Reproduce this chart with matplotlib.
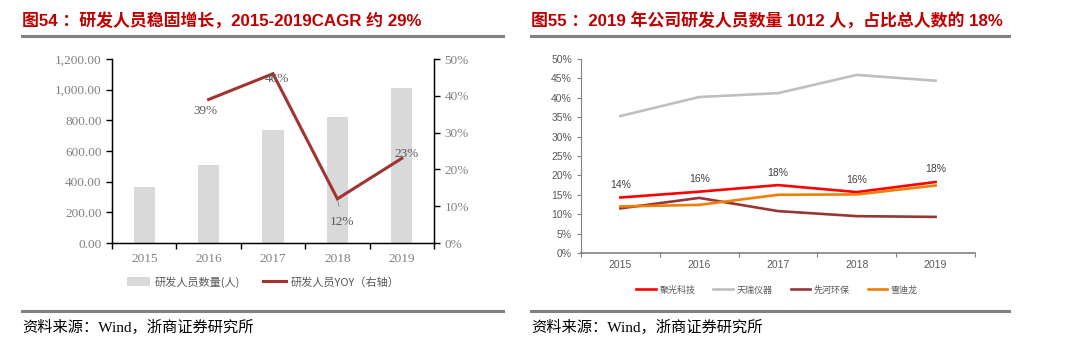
import matplotlib
matplotlib.use('Agg')
import matplotlib.pyplot as plt
from matplotlib.lines import Line2D
from matplotlib.ticker import FuncFormatter, FixedLocator

plt.rcParams['font.family'] = ['Liberation Sans', 'Noto Sans CJK SC', 'DejaVu Sans']

# data
years = ['2015', '2016', '2017', '2018', '2019']
staff = [365, 507, 738, 824, 1012]
yoy = [None, 0.39, 0.46, 0.12, 0.23]
yoy_labels = ['', '39%', '46%', '12%', '23%']

jg = [0.143, 0.158, 0.175, 0.157, 0.183]      # 聚光科技
tr = [0.353, 0.402, 0.412, 0.459, 0.444]      # 天瑞仪器
xh = [0.115, 0.142, 0.108, 0.095, 0.093]      # 先河环保
xdl = [0.120, 0.124, 0.150, 0.151, 0.174]     # 雪迪龙
jg_labels = ['14%', '16%', '18%', '16%', '18%']

W, H = 1080, 343
fig = plt.figure(figsize=(W / 100, H / 100), dpi=100)

def fx(px): return px / W
def fy(py): return 1 - py / H

title_red = '#C00000'
grey_rule = '#808080'
serif_cjk = ['Liberation Serif', 'Noto Sans CJK SC']

# titles, rules and source
fig.text(fx(22), fy(21), '图54 ：研发人员稳固增长，2015-2019CAGR 约 29%', color=title_red,
         fontsize=12.2, fontweight='bold', va='center', ha='left')
fig.text(fx(531), fy(21), '图55 ：2019 年公司研发人员数量 1012 人，占比总人数的 18%', color=title_red,
         fontsize=12.2, fontweight='bold', va='center', ha='left')
for x0, x1 in [(22, 503), (531, 1009)]:
    fig.add_artist(Line2D([fx(x0), fx(x1)], [fy(36), fy(36)], color=grey_rule, lw=2.2))
    fig.add_artist(Line2D([fx(x0), fx(x1)], [fy(311), fy(311)], color=grey_rule, lw=2.2))
    fig.text(fx(x0), fy(327), '资料来源：Wind，浙商证券研究所', family=serif_cjk,
             fontsize=11, color='black', va='center', ha='left')

# ---------- left chart ----------
ax = fig.add_axes([fx(112), fy(243), fx(434) - fx(112), fy(59) - fy(243)])
x = range(len(years))
bars = ax.bar(x, staff, width=0.33, color='#D9D9D9', label='研发人员数量(人)', zorder=1)
ax.set_ylim(0, 1200)
ax.set_xlim(-0.5, 4.5)
ax.set_yticks(range(0, 1201, 200))
ax.yaxis.set_major_formatter(FuncFormatter(lambda v, p: f'{v:,.2f}'))
ax.xaxis.set_major_locator(FixedLocator([i - 0.5 for i in range(6)]))
ax.xaxis.set_minor_locator(FixedLocator(list(x)))
ax.set_xticklabels([])
ax.set_xticklabels(years, minor=True)
ax.tick_params(axis='x', which='major', length=4, width=1, color='black')
ax.tick_params(axis='x', which='minor', length=0, pad=7)
ax.tick_params(axis='y', length=4, width=1, color='black')
for lab in ax.get_yticklabels() + ax.get_xticklabels(minor=True):
    lab.set_fontfamily('Liberation Serif')
    lab.set_fontsize(9.5)
    lab.set_color('#808080')
ax.spines['top'].set_visible(False)
for s in ['left', 'right', 'bottom']:
    ax.spines[s].set_color('black')
    ax.spines[s].set_linewidth(1)

ax2 = ax.twinx()
ax2.set_ylim(0, 0.5)
ax2.set_yticks([i / 10 for i in range(6)])
ax2.yaxis.set_major_formatter(FuncFormatter(lambda v, p: f'{v:.0%}'))
line_x = [i for i in x if yoy[i] is not None]
line_y = [yoy[i] for i in line_x]
yoy_line, = ax2.plot(line_x, line_y, color='#A33330', lw=2.2, label='研发人员YOY（右轴）',
                     solid_joinstyle='miter', zorder=3)
ax2.tick_params(axis='y', length=4, width=1, color='black')
for lab in ax2.get_yticklabels():
    lab.set_fontfamily('Liberation Serif')
    lab.set_fontsize(9.5)
    lab.set_color('#808080')
ax2.spines['top'].set_visible(False)
ax2.spines['right'].set_color('black')

offsets = {1: (-3, -12), 2: (4, -5), 3: (5, -23), 4: (5, 4)}
for i, (dx, dy) in offsets.items():
    kw = dict(xytext=(dx * 0.72, dy * 0.72), textcoords='offset points', ha='center', va='center',
              fontfamily='Liberation Serif', fontsize=9.5, color='#595959')
    if i == 3:
        kw['arrowprops'] = dict(arrowstyle='-', color='#808080', lw=0.6, shrinkA=5, shrinkB=2)
    ax2.annotate(yoy_labels[i], (i, yoy[i]), **kw)

leg = fig.legend([bars, yoy_line], ['研发人员数量(人)', '研发人员YOY（右轴）'],
                 loc='center', bbox_to_anchor=(fx(263), fy(282)), ncol=2, frameon=False,
                 prop={'family': 'Noto Sans CJK SC', 'size': 8}, handlelength=2.1,
                 handleheight=0.9, columnspacing=2.1, handletextpad=0.35)
for t in leg.get_texts():
    t.set_color('#595959')

# ---------- right chart ----------
bx = fig.add_axes([fx(581), fy(253), fx(975) - fx(581), fy(59) - fy(253)])
series = [(jg, '聚光科技', '#FF0000'), (tr, '天瑞仪器', '#BFBFBF'),
          (xh, '先河环保', '#953735'), (xdl, '雪迪龙', '#F07F09')]
handles = []
for vals, name, col in series:
    h, = bx.plot(list(x), vals, color=col, lw=1.9, label=name)
    handles.append(h)
for i, v in enumerate(jg):
    bx.annotate(jg_labels[i], (i, v), xytext=(0, 9), textcoords='offset points',
                ha='center', va='center', fontsize=7.5, color='#404040')
bx.set_ylim(0, 0.5)
bx.set_xlim(-0.5, 4.5)
bx.set_yticks([i / 20 for i in range(11)])
bx.yaxis.set_major_formatter(FuncFormatter(lambda v, p: f'{v:.0%}'))
bx.xaxis.set_major_locator(FixedLocator([i - 0.5 for i in range(6)]))
bx.xaxis.set_minor_locator(FixedLocator(list(x)))
bx.set_xticklabels([])
bx.set_xticklabels(years, minor=True)
bx.tick_params(axis='x', which='major', length=3, width=0.8, color='#808080')
bx.tick_params(axis='x', which='minor', length=0, pad=5, labelsize=7.5, labelcolor='#595959')
bx.tick_params(axis='y', length=3, width=0.8, color='#808080', labelsize=7.5, labelcolor='#595959')
bx.spines['top'].set_visible(False)
bx.spines['right'].set_visible(False)
bx.spines['left'].set_color('#808080')
bx.spines['bottom'].set_color('#808080')
bx.spines['bottom'].set_linewidth(1.2)

leg2 = fig.legend(handles, [s[1] for s in series], loc='center',
                  bbox_to_anchor=(fx(777), fy(290)), ncol=4, frameon=False,
                  prop={'family': 'Noto Sans CJK SC', 'size': 6.5}, handlelength=2.2,
                  columnspacing=2.0, handletextpad=0.35)
for t in leg2.get_texts():
    t.set_color('#595959')

fig.savefig('out.png', dpi=100)
